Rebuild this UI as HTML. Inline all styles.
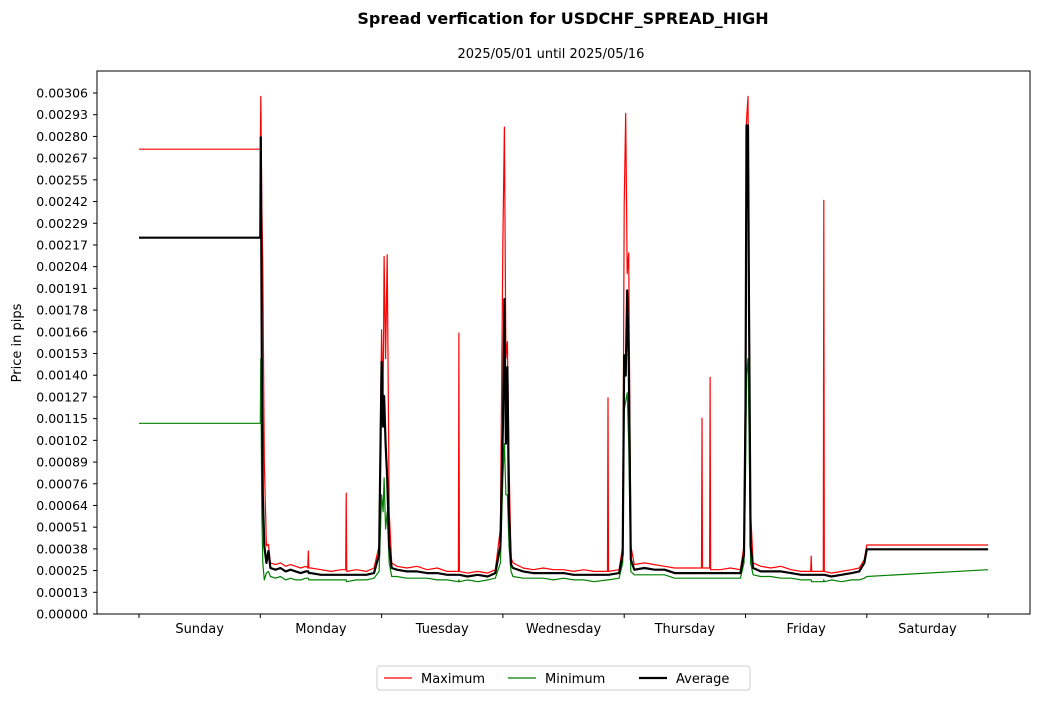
<!DOCTYPE html>
<html><head><meta charset="utf-8"><style>
body{margin:0;background:#fff;font-family:"Liberation Sans","DejaVu Sans",sans-serif}
svg text{font-family:"DejaVu Sans","Liberation Sans",sans-serif}
</style></head><body>
<svg id="chart" width="1039" height="700" xmlns="http://www.w3.org/2000/svg">
<rect width="1039" height="700" fill="#fff"/>
<text x="563" y="24" text-anchor="middle" font-size="16" font-weight="bold">Spread verfication for USDCHF_SPREAD_HIGH</text>
<text x="551" y="58" text-anchor="middle" font-size="13">2025/05/01 until 2025/05/16</text>
<text transform="translate(21,343) rotate(-90)" text-anchor="middle" font-size="13">Price in pips</text>
<g id="grid"></g>
<g id="series"></g>
<rect x="97" y="71" width="933" height="543" fill="none" stroke="#000" stroke-width="1"/>
<g>
<rect x="377" y="666" width="373" height="24" fill="#fff" stroke="#ccc" rx="3"/>
<line x1="384" y1="678" x2="412" y2="678" stroke="red" stroke-width="1.2"/>
<text x="421" y="683" font-size="13">Maximum</text>
<line x1="508" y1="678" x2="536" y2="678" stroke="green" stroke-width="1.2"/>
<text x="545" y="683" font-size="13">Minimum</text>
<line x1="639" y1="678" x2="667" y2="678" stroke="#000" stroke-width="2.2"/>
<text x="676" y="683" font-size="13">Average</text>
</g>
</svg>
<script>
const dayLabels=["Sunday","Monday","Tuesday","Wednesday","Thursday","Friday","Saturday"];
const yTickLabels=["0.00000","0.00013","0.00025","0.00038","0.00051","0.00064","0.00076","0.00089","0.00102","0.00115","0.00127","0.00140","0.00153","0.00166","0.00178","0.00191","0.00204","0.00217","0.00229","0.00242","0.00255","0.00267","0.00280","0.00293","0.00306"];
const yMax=306; // units of 1e-5
const times=[0,24,24.1,24.3,24.5,24.8,25.2,25.6,26,27,28,29,30,31,32,33,33.4,33.5,33.6,34,36,38,40,40.9,41,41.1,43,45,46.5,47.5,48,48.3,48.5,48.8,49.1,49.5,50,51,53,55,57,59,61,63.2,63.3,63.4,65,67,69,70.5,71.5,72,72.3,72.6,72.9,73.2,73.6,74,76,78,80,82,84,86,88,90,92.7,92.8,92.9,95,95.7,96,96.3,96.6,96.9,97.3,98,100,102,104,106,108,111.3,111.4,111.5,112.9,113,113.1,115,117,119,119.7,120,120.2,120.5,120.7,121,121.5,123,125,127,129,131,132.9,133,133.1,135.4,135.5,135.6,137,139,141,142.5,143.5,144,168];
const maxVals=[273,273,304,240,205,90,40,41,30,29,30,28,29,28,27,28,27,37,27,27,26,25,26,26,71,25,26,25,27,40,167,120,210,150,211,60,30,28,27,28,26,27,25,25,165,25,24,25,24,26,50,220,286,150,160,90,33,30,27,26,27,26,26,25,26,25,25,127,25,26,40,240,294,200,212,40,29,30,29,28,27,27,27,115,27,27,139,26,26,27,26,40,150,290,304,200,60,30,28,27,28,26,25,25,34,25,25,243,25,24,25,26,27,32,40.5,40.5];
const minVals=[112,112,150,60,30,20,24,25,22,21,22,20,21,20,20,21,21,21,20,20,20,20,20,20,20,19,20,20,21,25,70,60,80,50,60,30,22,22,21,21,21,20,20,19,20,19,20,19,20,21,30,80,100,70,70,40,25,22,21,21,21,20,21,20,20,19,20,20,20,21,30,120,125,130,100,25,23,23,23,23,21,21,21,21,21,21,21,21,21,21,21,30,80,140,150,110,30,23,22,22,21,21,20,20,20,19,19,20,19,20,19,20,20,21,22,26,28.5,28.5];
const avgVals=[221,221,280,150,70,40,30,37,27,26,27,25,26,25,24,25,25,25,24,24,23,23,23,23,23,23,23,23,24,35,148,110,128,100,80,40,27,26,25,25,24,24,23,23,23,23,22,23,22,24,40,110,185,100,145,60,29,27,25,24,24,24,24,23,23,23,23,23,23,24,35,152,140,190,150,32,26,27,26,26,24,24,24,24,24,24,24,24,24,24,24,35,120,287,287,180,40,27,25,25,25,24,23,23,23,23,23,23,23,22,23,24,25,30,38,38];
const NS="http://www.w3.org/2000/svg";
const X0=139,DAYW=121.3,Y0=614,PH=521;
function xs(t){return X0+t*DAYW/24;}
function ys(v){return Y0-v*PH/yMax;}
const grid=document.getElementById('grid');
yTickLabels.forEach((lab,i)=>{
  const y=ys(i*yMax/(yTickLabels.length-1));
  const l=document.createElementNS(NS,'line');
  
  
  l.setAttribute('x1',93);l.setAttribute('x2',97);l.setAttribute('y1',y);l.setAttribute('y2',y);l.setAttribute('stroke','#000');
  grid.appendChild(l);
  const t=document.createElementNS(NS,'text');
  
  
  t.setAttribute('x',88);t.setAttribute('y',y+4.5);t.setAttribute('text-anchor','end');t.setAttribute('font-size','12.5');
  t.textContent=lab;
  grid.appendChild(t);
});
for(let d=0;d<=7;d++){
  const x=xs(d*24);
  const l=document.createElementNS(NS,'line');
  
  
  l.setAttribute('x1',x);l.setAttribute('x2',x);l.setAttribute('y1',614);l.setAttribute('y2',618);l.setAttribute('stroke','#000');
  grid.appendChild(l);
}
dayLabels.forEach((d,i)=>{
  const t=document.createElementNS(NS,'text');
  
  
  t.setAttribute('x',xs(i*24+12));t.setAttribute('y',633);t.setAttribute('text-anchor','middle');t.setAttribute('font-size','13');
  t.textContent=d;
  grid.appendChild(t);
});
const ser=document.getElementById('series');
function line(vals,color,w,name){
  const p=document.createElementNS(NS,'polyline');
  
  
  p.setAttribute('points',times.map((t,i)=>xs(t).toFixed(1)+','+ys(vals[i]).toFixed(1)).join(' '));
  p.setAttribute('fill','none');p.setAttribute('stroke',color);p.setAttribute('stroke-width',w);p.setAttribute('stroke-linejoin','round');
  ser.appendChild(p);
}
line(maxVals,'red',1.2,'maximum-line');
line(minVals,'green',1.2,'minimum-line');
line(avgVals,'#000',2.2,'average-line');
</script>
</body></html>
